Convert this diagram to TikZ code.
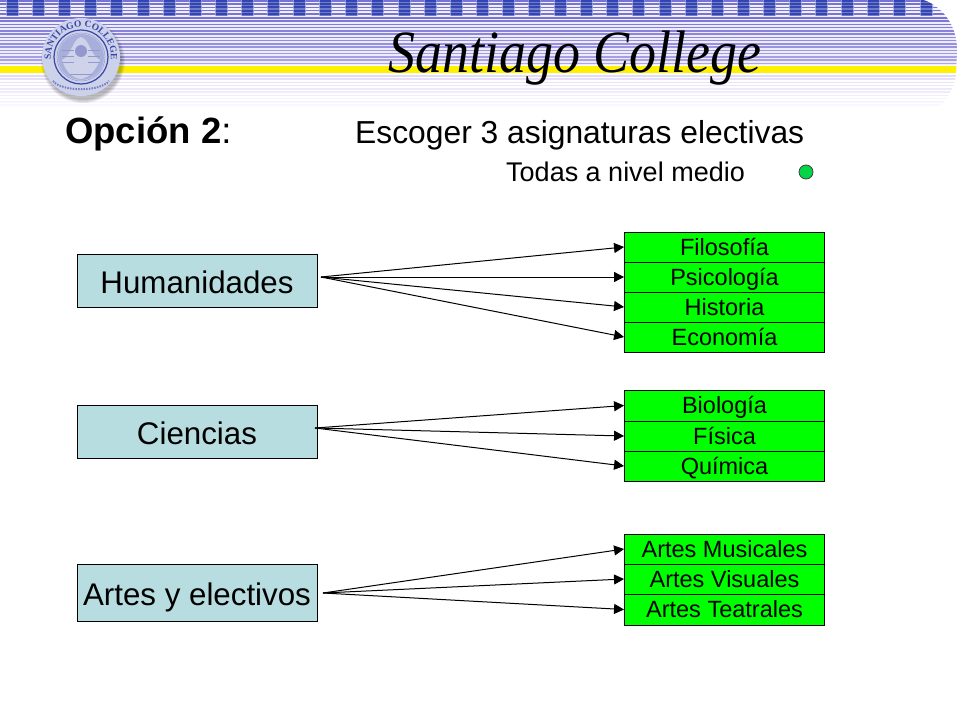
\documentclass[tikz,border=0pt]{standalone}
\usepackage{fontspec}
\setmainfont{Liberation Sans}
\newfontfamily\serifhead{Liberation Serif}
\usetikzlibrary{decorations.text,arrows.meta}
\definecolor{boxblue}{RGB}{183,221,224}
\definecolor{boxgreen}{RGB}{0,255,0}
\definecolor{dotgreen}{RGB}{0,214,70}
\definecolor{squareblue}{RGB}{52,68,178}
\definecolor{stripeA}{RGB}{120,116,214}
\definecolor{stripeB}{RGB}{172,165,232}
\definecolor{stripeC}{RGB}{226,220,248}
\definecolor{stripeD}{RGB}{250,248,254}
\definecolor{gapA}{RGB}{238,235,251}
\definecolor{bandyellow}{RGB}{255,240,0}
\definecolor{sealblue}{RGB}{58,70,165}
\definecolor{sealfill}{RGB}{205,210,235}
\tikzset{
  x=1pt,y=-1pt,
  bigbox/.style={draw=black,line width=0.9pt,fill=boxblue,minimum width=240pt,font=\fontsize{31.3}{33}\selectfont,inner sep=0pt,anchor=center,text height=27pt,text depth=2pt},
  subj/.style={draw=black,line width=0.9pt,fill=boxgreen,minimum width=200pt,font=\fontsize{23.5}{25}\selectfont,inner sep=0pt,anchor=center,text height=18pt,text depth=2pt,text=black},
  link/.style={draw=black,line width=1pt,-{Triangle[length=10pt,width=10pt]}},
  plain/.style={inner sep=0pt,anchor=base west,text=black},
}
\begin{document}
\begin{tikzpicture}
\useasboundingbox (0,0) rectangle (960,720);
\fill[white] (0,0) rectangle (960,720);
% header band
\begin{scope}
\clip (0,0) -- (923,0) .. controls (942,6) and (957,25) .. (957,50) -- (956,75) .. controls (954,88) and (948,97) .. (940,106) -- (0,106) -- cycle;
\fill[gapA] (0,0) rectangle (960,65);
\foreach \i in {0,...,4}{\fill[stripeA] (0,{\i*3.25}) rectangle (960,{\i*3.25+1.6});}
\foreach \i in {0,...,36}{\fill[squareblue!55!white] ({6+\i*26.1},0) rectangle ({19+\i*26.1},16);}
\foreach \i in {0,...,36}{\fill[squareblue] ({7+\i*26.1},0) rectangle ({18+\i*26.1},16);}
\foreach \i in {0,...,4}{\fill[white,opacity=.3] (0,{\i*3.25+1.9}) rectangle (960,{\i*3.25+3.1});}
\foreach \i in {0,...,14}{
  \pgfmathsetmacro{\mixv}{100-\i*100/14}
  \fill[stripeA!\mixv!stripeB] (0,{17+\i*3.25}) rectangle (960,{17+\i*3.25+1.6});
}
\fill[bandyellow] (0,65.5) rectangle (960,73);
\foreach \i in {0,...,9}{
  \pgfmathsetmacro{\mixv}{100-\i*11}
  \fill[stripeC!\mixv!stripeD] (0,{75+\i*3.25}) rectangle (960,{75+\i*3.25+1.7});
}
\end{scope}
% seal shadow and seal
\foreach \r in {42,41,40,39}{\fill[black,opacity=.07] (83,61) circle[radius=\r];}
\fill[sealfill] (81,57) circle[radius=39];
\draw[sealblue,line width=1.2pt] (81,57) circle[radius=27];
\draw[sealblue!50!white,line width=.6pt] (81,57) circle[radius=24];
\fill[sealfill!75!sealblue] (81,57) circle[radius=23];
\fill[white,opacity=.45] (81,37) .. controls (90,40) and (90,55) .. (100,60) .. controls (95,72) and (88,78) .. (81,79) .. controls (72,78) and (66,72) .. (62,60) .. controls (72,55) and (72,40) .. (81,37) -- cycle;
\fill[sealblue!55!white] (81,51) circle[radius=6];
\foreach \yy in {50,56,62}{
  \draw[sealblue!55!white,line width=.8pt] (62,\yy) -- (74,\yy);
  \draw[sealblue!55!white,line width=.8pt] (88,\yy) -- (100,\yy);
}
\draw[sealblue!55!white,line width=1pt] (70,74) -- (92,74);
\path[decorate,decoration={text along path,text align=center,
  text={|\serifhead\bfseries\fontsize{9.5}{10}\selectfont\color{sealblue}|SANTIAGO COLLEGE}}]
  (55,72) arc[start angle=150,end angle=390,radius=30];
\draw[sealblue!70!white,line width=2pt,dash pattern=on 1.5pt off 1.2pt] (53,81) .. controls (62,92) and (100,92) .. (109,81);
% title logo text
\node[plain] (logo) at (388,72) {\serifhead\itshape\fontsize{60}{62}\selectfont\scalebox{.9}[1]{Santiago College}};
% headings
\node[plain] (opt) at (65,143) {\fontsize{36.5}{38}\selectfont\textbf{Opción 2}:};
\node[plain] (esc) at (355,143) {\fontsize{31.8}{34}\selectfont Escoger 3 asignaturas electivas};
\node[plain] (tod) at (506,181) {\fontsize{27}{29}\selectfont Todas a nivel medio};
\node[circle,draw=black!75,line width=.8pt,fill=dotgreen,minimum size=14pt,inner sep=0pt] (dot) at (806,172) {};
% left boxes
\node[bigbox,minimum height=53pt] (hum) at (197,280.5) {Humanidades};
\node[bigbox,minimum height=53pt] (cie) at (197,431.5) {Ciencias};
\node[bigbox,minimum height=57pt] (art) at (197,592.5) {Artes y electivos};
% right boxes
\node[subj,minimum height=30pt] (fil) at (724.5,247) {Filosofía};
\node[subj,minimum height=30pt] (psi) at (724.5,277) {Psicología};
\node[subj,minimum height=30pt] (his) at (724.5,307) {Historia};
\node[subj,minimum height=30pt] (eco) at (724.5,337) {Economía};
\node[subj,minimum height=31pt] (bio) at (724.5,405.5) {Biología};
\node[subj,minimum height=30pt] (fis) at (724.5,436) {Física};
\node[subj,minimum height=30pt] (qui) at (724.5,466) {Química};
\node[subj,minimum height=30pt] (mus) at (724.5,549) {Artes Musicales};
\node[subj,minimum height=30pt] (vis) at (724.5,579) {Artes Visuales};
\node[subj,minimum height=31pt] (tea) at (724.5,609.5) {Artes Teatrales};
% sources
\coordinate (hsrc) at (321,277);
\coordinate (csrc) at (315,428);
\coordinate (asrc) at (323,593);
\foreach \t in {fil,psi,his,eco}{\draw[link] (hsrc) -- (\t.west);}
\foreach \t in {bio,fis,qui}{\draw[link] (csrc) -- (\t.west);}
\foreach \t in {mus,vis,tea}{\draw[link] (asrc) -- (\t.west);}
\end{tikzpicture}
\end{document}
